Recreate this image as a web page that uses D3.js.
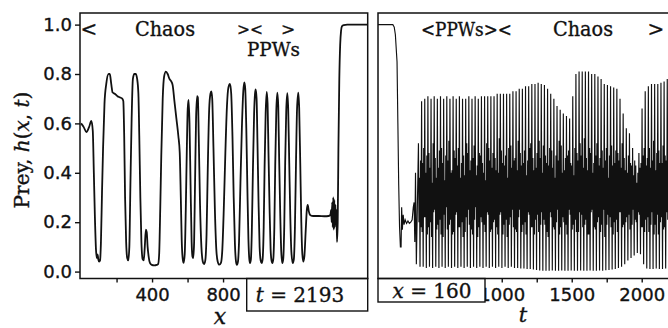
<!DOCTYPE html>
<html>
<head>
<meta charset="utf-8">
<script src="https://cdn.jsdelivr.net/npm/d3@7/dist/d3.min.js"></script>
<style>
  body { margin: 0; background: #fff; }
  svg { display: block; }
  .tick text { font-family: "DejaVu Sans", sans-serif; font-size: 18px; fill: #111; stroke: #111; stroke-width: 0.35; }
  .tick line { stroke: #111; stroke-width: 1.4; }
  .note { font-family: "DejaVu Serif", serif; font-size: 20px; fill: #111; stroke: #111; stroke-width: 0.35; }
</style>
</head>
<body>
<svg id="chart" width="668" height="328"></svg>
<script>
// left panel: snapshot h(x) at t = 2193
const leftX = [0, 15, 30, 45, 58, 66, 72, 78, 84, 89, 93, 97, 102, 107, 112, 118, 124, 132, 142, 155,
  162, 170, 178, 190, 205, 220, 232, 238, 243, 248, 254, 260, 266, 272, 278, 285, 292, 300, 308, 316,
  323, 328, 334, 340, 347, 353, 359, 365, 370, 375, 381, 388, 398, 412, 426, 434, 440, 446, 452, 460,
  468, 478, 488, 498, 508, 516, 526, 537, 548, 556, 562, 567, 573, 578, 584, 590, 596, 601, 606, 611,
  617, 623, 628, 632, 637, 642, 648, 654, 658, 663, 670, 678, 686, 693, 700, 707, 714, 722, 729, 734,
  739, 746, 754, 762, 770, 779, 788, 796, 804, 813, 822, 830, 839, 846, 853, 860, 867, 873, 878, 884,
  890, 898, 906, 914, 920, 925, 931, 937, 943, 948, 952, 957, 962, 968, 975, 980, 984, 989, 994, 1000,
  1006, 1012, 1018, 1023, 1029, 1034, 1040, 1046, 1051, 1056, 1062, 1068, 1073, 1078, 1083, 1089, 1094, 1100, 1106, 1111,
  1116, 1122, 1128, 1134, 1139, 1145, 1150, 1156, 1162, 1167, 1173, 1179, 1185, 1193, 1199, 1205, 1211, 1217, 1224, 1229,
  1235, 1241, 1246, 1252, 1258, 1266, 1272, 1277, 1283, 1290, 1300, 1318, 1340, 1370, 1395, 1405, 1409, 1412, 1415, 1418,
  1421, 1424, 1427, 1430, 1433, 1436, 1439, 1442, 1446, 1450, 1455, 1460, 1465, 1470, 1480, 1500, 1615];
const leftH = [0.60, 0.585, 0.565, 0.585, 0.61, 0.57, 0.40, 0.22, 0.09, 0.055, 0.07, 0.05, 0.04, 0.045, 0.12, 0.32, 0.50, 0.68, 0.76, 0.80,
  0.80, 0.76, 0.725, 0.72, 0.71, 0.705, 0.70, 0.69, 0.55, 0.30, 0.12, 0.055, 0.045, 0.10, 0.35, 0.62, 0.78, 0.80, 0.80, 0.78,
  0.72, 0.55, 0.30, 0.12, 0.05, 0.045, 0.10, 0.17, 0.16, 0.10, 0.06, 0.035, 0.027, 0.025, 0.027, 0.03, 0.07, 0.25, 0.47, 0.70,
  0.79, 0.81, 0.80, 0.78, 0.77, 0.755, 0.69, 0.62, 0.55, 0.48, 0.30, 0.13, 0.05, 0.035, 0.07, 0.25, 0.50, 0.66, 0.695, 0.60,
  0.35, 0.12, 0.06, 0.055, 0.12, 0.35, 0.62, 0.71, 0.705, 0.55, 0.28, 0.10, 0.04, 0.03, 0.045, 0.15, 0.42, 0.66, 0.72, 0.73,
  0.70, 0.50, 0.25, 0.09, 0.04, 0.028, 0.035, 0.09, 0.25, 0.48, 0.67, 0.745, 0.76, 0.72, 0.55, 0.30, 0.11, 0.04, 0.027, 0.04,
  0.12, 0.36, 0.58, 0.73, 0.766, 0.74, 0.58, 0.34, 0.13, 0.05, 0.034, 0.05, 0.16, 0.40, 0.64, 0.72, 0.738, 0.70, 0.52, 0.28,
  0.10, 0.045, 0.034, 0.05, 0.18, 0.42, 0.64, 0.728, 0.68, 0.48, 0.26, 0.09, 0.045, 0.034, 0.05, 0.18, 0.43, 0.65, 0.724, 0.67,
  0.46, 0.24, 0.08, 0.034, 0.05, 0.19, 0.44, 0.65, 0.722, 0.66, 0.44, 0.22, 0.08, 0.034, 0.05, 0.18, 0.44, 0.66, 0.724, 0.66,
  0.44, 0.20, 0.08, 0.04, 0.06, 0.17, 0.25, 0.27, 0.245, 0.23, 0.226, 0.225, 0.225, 0.224, 0.225, 0.23, 0.25, 0.20, 0.28, 0.18,
  0.30, 0.17, 0.29, 0.18, 0.27, 0.19, 0.25, 0.12, 0.20, 0.50, 0.78, 0.92, 0.975, 0.993, 0.998, 1.0, 1.0];

// right panel: time series h(160, t), start-up part
const leadT = [116, 222, 232, 240, 252, 258, 264, 270, 276, 281, 285, 290, 296, 302, 310, 320, 330, 340, 350, 360,
  368, 374, 379, 384, 390];
const leadH = [1.0, 1.0, 0.99, 0.96, 0.85, 0.6, 0.35, 0.18, 0.10, 0.10, 0.26, 0.17, 0.23, 0.19, 0.21, 0.195, 0.205, 0.195, 0.20, 0.21,
  0.26, 0.28, 0.12, 0.40, 0.03];

// oscillation: successive extrema per cycle [peak, low, high, trough, high, low]
const cycleStart = 405;
const cyclePeriod = 22.5;
const cycles = [
  [.52, .20, .38, .02, .45, .18], [.69, .16, .44, .02, .50, .22], [.70, .22, .40, .015, .47, .15], [.71, .18, .48, .02, .42, .20],
  [.70, .14, .36, .015, .52, .24], [.71, .25, .46, .02, .38, .17], [.70, .19, .42, .015, .49, .21], [.71, .15, .50, .02, .44, .14],
  [.70, .23, .37, .015, .47, .26], [.71, .17, .45, .02, .53, .19], [.70, .21, .40, .015, .41, .15], [.71, .16, .49, .02, .46, .23],
  [.70, .24, .43, .015, .50, .18], [.71, .18, .38, .02, .44, .20], [.70, .14, .47, .015, .39, .16], [.70, .22, .52, .02, .48, .25],
  [.71, .19, .41, .015, .45, .17], [.70, .15, .46, .02, .51, .21], [.71, .26, .39, .015, .43, .14], [.70, .18, .48, .02, .47, .22],
  [.71, .20, .44, .015, .40, .19], [.71, .16, .37, .02, .52, .24], [.71, .23, .50, .015, .45, .16], [.71, .17, .42, .02, .48, .20],
  [.71, .21, .46, .015, .41, .18], [.72, .15, .40, .02, .54, .23], [.72, .24, .49, .015, .44, .15], [.72, .19, .43, .02, .47, .21],
  [.72, .14, .38, .015, .50, .19], [.72, .22, .51, .02, .42, .25], [.73, .18, .45, .015, .46, .17], [.73, .16, .41, .015, .53, .22],
  [.74, .25, .48, .012, .43, .16], [.74, .19, .44, .012, .49, .20], [.75, .15, .39, .01, .45, .24], [.75, .23, .50, .01, .52, .18],
  [.76, .18, .46, .008, .41, .15], [.76, .21, .42, .006, .48, .23], [.765, .16, .53, .004, .46, .19], [.76, .24, .40, .003, .51, .21],
  [.755, .19, .47, .003, .44, .16], [.74, .14, .43, .003, .50, .24], [.72, .22, .49, .004, .42, .18], [.70, .17, .38, .003, .47, .20],
  [.67, .25, .45, .003, .53, .15], [.655, .18, .51, .004, .40, .22], [.64, .20, .41, .003, .46, .19], [.63, .15, .47, .003, .49, .25],
  [.62, .23, .44, .004, .43, .17], [.71, .19, .39, .003, .50, .21], [.80, .16, .48, .003, .45, .16], [.81, .24, .52, .004, .47, .23],
  [.81, .18, .42, .003, .54, .19], [.81, .21, .46, .003, .41, .15], [.81, .15, .50, .004, .48, .24], [.80, .25, .40, .003, .44, .18],
  [.80, .17, .47, .003, .52, .20], [.79, .22, .43, .004, .46, .16], [.78, .19, .49, .003, .42, .25], [.76, .14, .45, .005, .50, .19],
  [.755, .23, .38, .006, .47, .22], [.75, .18, .51, .008, .43, .15], [.745, .20, .44, .01, .49, .21], [.74, .16, .48, .015, .45, .24],
  [.70, .24, .42, .02, .52, .18], [.64, .19, .46, .03, .41, .20], [.58, .22, .40, .045, .47, .23], [.56, .17, .44, .055, .43, .19],
  [.50, .25, .39, .065, .45, .21], [.43, .20, .36, .075, .40, .24], [.48, .23, .42, .07, .44, .18], [.66, .18, .47, .03, .50, .16],
  [.73, .21, .43, .012, .46, .22], [.75, .16, .50, .01, .42, .19], [.76, .24, .45, .01, .53, .15], [.76, .19, .41, .012, .48, .23],
  [.76, .15, .49, .01, .44, .20], [.765, .22, .44, .01, .51, .17], [.77, .18, .47, .012, .45, .24], [.78, .21, .42, .01, .49, .19]
];

const yTicks = [0, 0.2, 0.4, 0.6, 0.8, 1.0];
const xTicksLeft = [200, 400, 600, 800, 1000, 1200, 1400, 1600];
const xLabelsLeft = [400, 800];
const tTicksRight = [250, 500, 750, 1000, 1250, 1500, 1750, 2000];
const tLabelsRight = [1000, 1500, 2000];

const svg = d3.select("#chart");
const ink = "#111";

const y = d3.scaleLinear().domain([-0.028, 1.047]).range([278.5, 13]);
const xL = d3.scaleLinear().domain([-6, 1615]).range([80, 367.7]);
const xR = d3.scaleLinear().domain([116, 2200]).range([378, 669.7]);

// axes
const gy = svg.append("g").attr("transform", "translate(80,0)")
  .call(d3.axisLeft(y).tickValues(yTicks).tickFormat(d3.format(".1f")).tickSize(5).tickPadding(3));
gy.select(".domain").remove();

const gxl = svg.append("g").attr("transform", "translate(0,278.5)")
  .call(d3.axisBottom(xL).tickValues(xTicksLeft).tickFormat(d => xLabelsLeft.includes(d) ? d : "").tickSize(4).tickPadding(6));
gxl.select(".domain").remove();

const gxr = svg.append("g").attr("transform", "translate(0,278.5)")
  .call(d3.axisBottom(xR).tickValues(tTicksRight).tickFormat(d => tLabelsRight.includes(d) ? d : "").tickSize(4).tickPadding(6));
gxr.select(".domain").remove();

// curves
const clip = svg.append("defs");
clip.append("clipPath").attr("id", "clipL").append("rect").attr("x", 80).attr("y", 13).attr("width", 287.7).attr("height", 265.5);
clip.append("clipPath").attr("id", "clipR").append("rect").attr("x", 378).attr("y", 13).attr("width", 300).attr("height", 265.5);

const leftPts = leftX.map((v, i) => [v, leftH[i]]);
svg.append("path")
  .datum(leftPts)
  .attr("clip-path", "url(#clipL)")
  .attr("fill", "none").attr("stroke", ink).attr("stroke-width", 1.8).attr("stroke-linejoin", "round")
  .attr("d", d3.line().x(d => xL(d[0])).y(d => y(d[1])).curve(d3.curveMonotoneX));

const step = cyclePeriod / 6;
const rightPts = leadT.map((t, i) => [t, leadH[i]]);
cycles.forEach((c, i) => c.forEach((v, k) => rightPts.push([cycleStart + i * cyclePeriod + k * step, v])));
svg.append("path")
  .datum(rightPts)
  .attr("clip-path", "url(#clipR)")
  .attr("fill", "none").attr("stroke", ink).attr("stroke-width", 1.15)
  .attr("d", d3.line().x(d => xR(d[0])).y(d => y(d[1])));

// info boxes
svg.append("rect").attr("x", 246.7).attr("y", 278.5).attr("width", 121).attr("height", 32.5)
  .attr("fill", "#fff").attr("stroke", ink).attr("stroke-width", 1.4);
svg.append("rect").attr("x", 378).attr("y", 278.5).attr("width", 107).attr("height", 23.5)
  .attr("fill", "#fff").attr("stroke", ink).attr("stroke-width", 1.4);

// frames
svg.append("rect").attr("x", 80).attr("y", 13).attr("width", 287.7).attr("height", 265.5)
  .attr("fill", "none").attr("stroke", ink).attr("stroke-width", 1.5);
svg.append("rect").attr("x", 378).attr("y", 13).attr("width", 300).attr("height", 265.5)
  .attr("fill", "none").attr("stroke", ink).attr("stroke-width", 1.5);

// texts
function note(x, yy, str, anchor, len) {
  const t = svg.append("text").attr("class", "note").attr("x", x).attr("y", yy)
    .attr("text-anchor", anchor || "start").text(str);
  if (len) t.attr("textLength", len).attr("lengthAdjust", "spacingAndGlyphs");
  return t;
}
note(89, 36, "<", "middle");
note(135, 36, "Chaos", "start", 60);
note(237, 35, "><", "start", 26).style("font-size", "17px");
note(288, 35, ">", "middle").style("font-size", "17px");
note(247, 56, "PPWs", "start", 53).style("font-size", "19px");

note(421, 36, "<PPWs><", "start", 91).style("font-size", "18px");
note(553, 36, "Chaos", "start", 60);
note(656, 36, ">", "middle");

const tb = note(300, 302, "", "middle");
tb.append("tspan").attr("font-style", "italic").text("t");
tb.append("tspan").text(" = 2193");
const xb = note(432, 298, "", "middle");
xb.append("tspan").attr("font-style", "italic").text("x");
xb.append("tspan").text(" = 160");

note(220, 324, "x", "middle").attr("font-style", "italic").style("font-size", "22px");
note(523, 322, "t", "middle").attr("font-style", "italic").style("font-size", "21px");

const yl = svg.append("text").attr("class", "note").attr("text-anchor", "middle")
  .attr("transform", "translate(29,150) rotate(-90)").style("font-size", "20px");
yl.append("tspan").text("Prey, ");
yl.append("tspan").attr("font-style", "italic").text("h");
yl.append("tspan").text("(");
yl.append("tspan").attr("font-style", "italic").text("x");
yl.append("tspan").text(", ");
yl.append("tspan").attr("font-style", "italic").text("t");
yl.append("tspan").text(")");
</script>
</body>
</html>
